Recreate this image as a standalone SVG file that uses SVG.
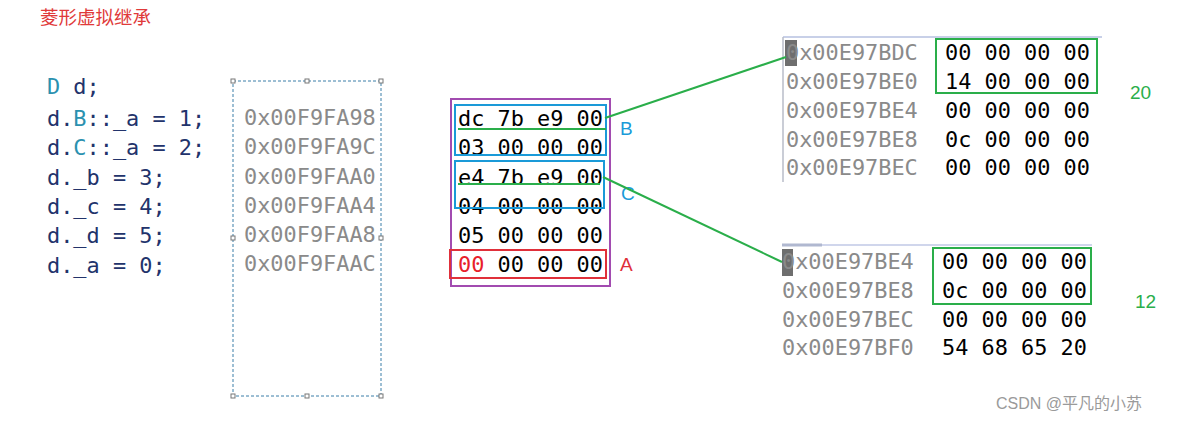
<svg xmlns="http://www.w3.org/2000/svg" width="1181" height="422" viewBox="0 0 1181 422">
<style>
.mono{font-family:"DejaVu Sans Mono","Liberation Mono",monospace;font-size:21.9px}
.code{fill:#22336b}
.kw{fill:#2b91af}
.addr{fill:#8a8a8a}
.val{fill:#000}
.lbl{font-family:"Liberation Sans","Noto Sans",sans-serif;font-size:19px}
.conn{stroke:#2aae4a;stroke-width:2;fill:none}
.handle{fill:#fff;stroke:#777;stroke-width:1}
</style>
<rect width="1181" height="422" fill="#fff"/>
<g id="title">
<text x="40" y="24" font-family="'Noto Sans CJK SC',sans-serif" font-size="18.5" fill="#e03a3a">菱形虚拟继承</text>
</g>
<g id="code" class="mono code">
<text x="47" y="94"><tspan class="kw">D</tspan> d;</text>
<text x="47" y="126">d.<tspan class="kw">B</tspan>::_a = 1;</text>
<text x="47" y="155">d.<tspan class="kw">C</tspan>::_a = 2;</text>
<text x="47" y="185">d._b = 3;</text>
<text x="47" y="214">d._c = 4;</text>
<text x="47" y="243">d._d = 5;</text>
<text x="47" y="273">d._a = 0;</text>
</g>
<g id="addr-box">
<rect x="233" y="81" width="148" height="315" fill="none" stroke="#3a7fa8" stroke-width="1" stroke-dasharray="3,2"/>
<rect class="handle" x="231" y="79" width="4" height="4"/>
<rect class="handle" x="305" y="79" width="4" height="4"/>
<rect class="handle" x="379" y="79" width="4" height="4"/>
<rect class="handle" x="231" y="236" width="4" height="4"/>
<rect class="handle" x="379" y="236" width="4" height="4"/>
<rect class="handle" x="231" y="394" width="4" height="4"/>
<rect class="handle" x="305" y="394" width="4" height="4"/>
<rect class="handle" x="379" y="394" width="4" height="4"/>
<g class="mono addr">
<text x="244" y="125">0x00F9FA98</text>
<text x="244" y="154">0x00F9FA9C</text>
<text x="244" y="184">0x00F9FAA0</text>
<text x="244" y="213">0x00F9FAA4</text>
<text x="244" y="242">0x00F9FAA8</text>
<text x="244" y="271">0x00F9FAAC</text>
</g>
</g>
<g id="object-d">
<rect x="451" y="99" width="159" height="187" fill="none" stroke="#a24bb0" stroke-width="2"/>
<g class="mono val">
<text x="458" y="126">dc 7b e9 00</text>
<text x="458" y="155">03 00 00 00</text>
<text x="458" y="185">e4 7b e9 00</text>
<text x="458" y="214">04 00 00 00</text>
<text x="458" y="243">05 00 00 00</text>
<text x="458" y="272"><tspan fill="#e8202a">00</tspan> 00 00 00</text>
</g>
</g>
<g id="part-B">
<rect x="455" y="105" width="151" height="50" fill="none" stroke="#1a9ad8" stroke-width="2"/>
<text class="lbl" x="620" y="135" fill="#1a9ad8">B</text>
</g>
<g id="part-C">
<rect x="455" y="161" width="149" height="47" fill="none" stroke="#1a9ad8" stroke-width="2"/>
<text class="lbl" x="621" y="200" fill="#1a9ad8">C</text>
</g>
<g id="part-A">
<rect x="450" y="250" width="156" height="28" fill="none" stroke="#e0303a" stroke-width="2"/>
<text class="lbl" x="620" y="271" fill="#e0303a">A</text>
</g>
<g id="vbtable-B">
<line x1="783" y1="37" x2="1102" y2="37" stroke="#c8d0e8" stroke-width="2"/>
<line x1="783" y1="37" x2="783" y2="182" stroke="#b8bcc8" stroke-width="1.5"/>
<rect x="785" y="40" width="12" height="26" fill="#6e6e6e"/>
<g class="mono addr">
<text x="786" y="60">0x00E97BDC</text>
<text x="786" y="89">0x00E97BE0</text>
<text x="786" y="118">0x00E97BE4</text>
<text x="786" y="147">0x00E97BE8</text>
<text x="786" y="175">0x00E97BEC</text>
</g>
<g class="mono val">
<text x="945" y="60">00 00 00 00</text>
<text x="945" y="89">14 00 00 00</text>
<text x="945" y="118">00 00 00 00</text>
<text x="945" y="147">0c 00 00 00</text>
<text x="945" y="175">00 00 00 00</text>
</g>
<rect x="936" y="39" width="161" height="54" fill="none" stroke="#2aae4a" stroke-width="2"/>
<text class="lbl" x="1130" y="99" fill="#2aae4a">20</text>
</g>
<g id="vbtable-C">
<line x1="782" y1="245" x2="1092" y2="245" stroke="#d0d6ec" stroke-width="2"/>
<line x1="782" y1="245" x2="822" y2="245" stroke="#b0b8d0" stroke-width="3"/>
<rect x="782" y="249" width="11" height="27" fill="#6e6e6e"/>
<g class="mono addr">
<text x="782" y="269">0x00E97BE4</text>
<text x="782" y="298">0x00E97BE8</text>
<text x="782" y="327">0x00E97BEC</text>
<text x="782" y="355">0x00E97BF0</text>
</g>
<g class="mono val">
<text x="942" y="269">00 00 00 00</text>
<text x="942" y="298">0c 00 00 00</text>
<text x="942" y="327">00 00 00 00</text>
<text x="942" y="355">54 68 65 20</text>
</g>
<rect x="933" y="248" width="158" height="56" fill="none" stroke="#2aae4a" stroke-width="2"/>
<text class="lbl" x="1135" y="308" fill="#2aae4a">12</text>
</g>
<g id="connectors">
<line class="conn" x1="458" y1="129" x2="606" y2="129"/>
<line class="conn" x1="458" y1="184" x2="600" y2="184"/>
<line class="conn" x1="605" y1="118" x2="786" y2="57"/>
<line class="conn" x1="603" y1="177" x2="782" y2="262"/>
</g>
<g id="watermark">
<text x="996" y="409" font-family="'Liberation Sans','Noto Sans CJK SC',sans-serif" font-size="16" fill="#9a9a9a">CSDN @平凡的小苏</text>
</g>
</svg>
